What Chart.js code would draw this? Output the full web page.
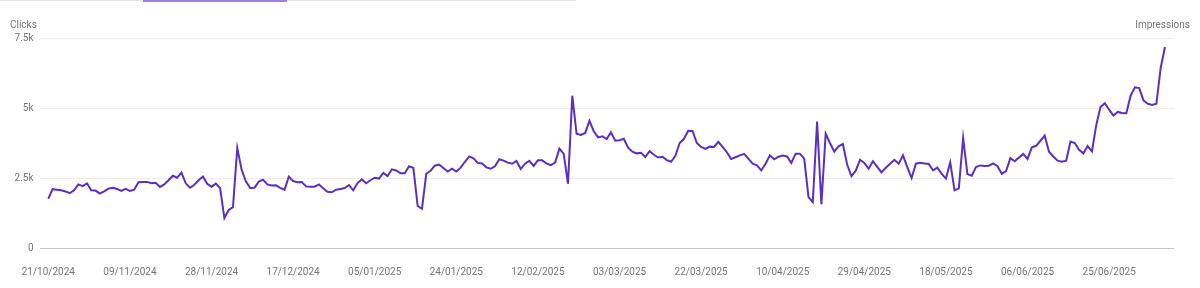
<!DOCTYPE html>
<html>
<head>
<meta charset="utf-8">
<title>Clicks</title>
<script src="https://cdn.jsdelivr.net/npm/chart.js@4.4.1/dist/chart.umd.min.js"></script>
<style>
    html, body { margin: 0; padding: 0; background: #fff; }
    #wrap { position: relative; width: 1200px; height: 288px; overflow: hidden; }
    /* tab strip above the chart */
    .tab-line { position: absolute; top: 0; left: 0; width: 576px; height: 1px; background: #e6e6e6; }
    .tab-active { position: absolute; top: 0; left: 143px; width: 144px; height: 2px; background: #a27fe3; }
    canvas { display: block; }
</style>
</head>
<body>
<div id="wrap">
    <div class="tab-line"></div>
    <div class="tab-active"></div>
    <canvas id="clicksChart" width="1200" height="288"></canvas>
</div>

<script>
// -------------------------------------------------------
// DATA (daily clicks, 21/10/2024 -> 08/07/2025)
// -------------------------------------------------------
const tickStep = 19; // one label every 19 days
const tickLabels = [
    '21/10/2024', '09/11/2024', '28/11/2024', '17/12/2024', '05/01/2025',
    '24/01/2025', '12/02/2025', '03/03/2025', '22/03/2025', '10/04/2025',
    '29/04/2025', '18/05/2025', '06/06/2025', '25/06/2025'
];
const yTicks = [0, 2500, 5000, 7500];
const yTickLabels = ['0', '2.5k', '5k', '7.5k'];

const clicks = [
    1760, 2100, 2080, 2060, 2020, 1960, 2060, 2270, 2210, 2310,
    2060, 2050, 1940, 2020, 2120, 2150, 2110, 2040, 2110, 2040,
    2080, 2350, 2360, 2360, 2310, 2330, 2180, 2270, 2420, 2580,
    2510, 2690, 2310, 2150, 2260, 2420, 2550, 2290, 2190, 2300,
    2140, 1070, 1360, 1460, 3570, 2800, 2380, 2140, 2150, 2370,
    2440, 2270, 2230, 2240, 2150, 2080, 2550, 2390, 2350, 2360,
    2200, 2190, 2190, 2270, 2130, 2010, 1990, 2080, 2110, 2140,
    2250, 2060, 2320, 2450, 2310, 2420, 2510, 2480, 2680, 2570,
    2810, 2770, 2670, 2670, 2920, 2860, 1500, 1400, 2650, 2760,
    2940, 2980, 2860, 2730, 2830, 2730, 2870, 3080, 3270, 3200,
    3040, 3020, 2880, 2830, 2920, 3170, 3120, 3050, 3010, 3110,
    2820, 3010, 3110, 2930, 3130, 3130, 3020, 2960, 3050, 3550,
    3360, 2300, 5440, 4080, 4040, 4110, 4540, 4170, 3950, 3990,
    3890, 4130, 3830, 3850, 3900, 3580, 3440, 3380, 3400, 3250,
    3460, 3330, 3230, 3260, 3140, 3080, 3290, 3750, 3900, 4190,
    4180, 3750, 3610, 3540, 3620, 3610, 3790, 3610, 3420, 3180,
    3240, 3310, 3360, 3190, 3010, 2950, 2770, 3010, 3310, 3170,
    3260, 3300, 3270, 3040, 3370, 3370, 3190, 1820, 1640, 4520,
    1560, 4080, 3750, 3440, 3630, 3710, 2980, 2560, 2760, 3150,
    3040, 2830, 3100, 2900, 2700, 2870, 3010, 3150, 3010, 3310,
    2890, 2500, 3010, 3040, 3020, 3000, 2770, 2870, 2650, 2480,
    3060, 2060, 2130, 3930, 2640, 2580, 2890, 2950, 2930, 2940,
    3020, 2920, 2650, 2750, 3210, 3100, 3230, 3360, 3180, 3600,
    3650, 3830, 4010, 3440, 3270, 3120, 3080, 3120, 3800, 3750,
    3510, 3380, 3640, 3450, 4390, 5040, 5170, 4940, 4730, 4860,
    4820, 4810, 5440, 5740, 5710, 5270, 5150, 5110, 5150, 6430,
    7180
];

// -------------------------------------------------------
// CHART
// -------------------------------------------------------
const textColor = '#757575';
const baseFont = { family: 'Roboto', size: 10 };

// axis titles sit above the plot, left and right
const axisTitles = {
    id: 'axisTitles',
    afterDraw(chart) {
        const ctx = chart.ctx;
        ctx.save();
        ctx.font = '10px Roboto';
        ctx.fillStyle = textColor;
        ctx.textBaseline = 'middle';
        ctx.textAlign = 'left';
        ctx.fillText('Clicks', 10, 25);
        ctx.textAlign = 'right';
        ctx.fillText('Impressions', 1190, 25);
        ctx.restore();
    }
};

const ctx = document.getElementById('clicksChart').getContext('2d');
new Chart(ctx, {
    type: 'line',
    data: {
        datasets: [{
            label: 'Clicks',
            data: clicks.map((v, i) => ({ x: i, y: v })),
            borderColor: '#5b2fc0',
            borderWidth: 2,
            pointRadius: 0,
            tension: 0,
            fill: false
        }]
    },
    options: {
        responsive: false,
        animation: false,
        layout: { padding: { top: 38, right: 26, bottom: 10, left: 0 } },
        plugins: {
            legend: { display: false },
            tooltip: { enabled: false }
        },
        scales: {
            x: {
                type: 'linear',
                min: -2.05,
                max: 262.1,
                grid: { display: false },
                border: { display: false },
                afterBuildTicks: (scale) => {
                    scale.ticks = tickLabels.map((_, k) => ({ value: k * tickStep }));
                },
                afterFit: (scale) => { scale.height = 30; },
                ticks: {
                    autoSkip: false,
                    maxRotation: 0,
                    padding: 10,
                    color: textColor,
                    font: baseFont,
                    callback: (v) => tickLabels[Math.round(v / tickStep)]
                }
            },
            y: {
                min: 0,
                max: 7500,
                border: { display: false },
                grid: {
                    drawTicks: false,
                    color: (c) => c.tick && c.tick.value === 0 ? '#c4c4c4' : '#eeeeee',
                    lineWidth: 1
                },
                afterBuildTicks: (scale) => {
                    scale.ticks = yTicks.map(v => ({ value: v }));
                },
                afterFit: (scale) => { scale.width = 39.5; },
                ticks: {
                    padding: 6,
                    color: textColor,
                    font: baseFont,
                    callback: (v) => yTickLabels[yTicks.indexOf(v)]
                }
            }
        }
    },
    plugins: [axisTitles]
});
</script>
</body>
</html>
